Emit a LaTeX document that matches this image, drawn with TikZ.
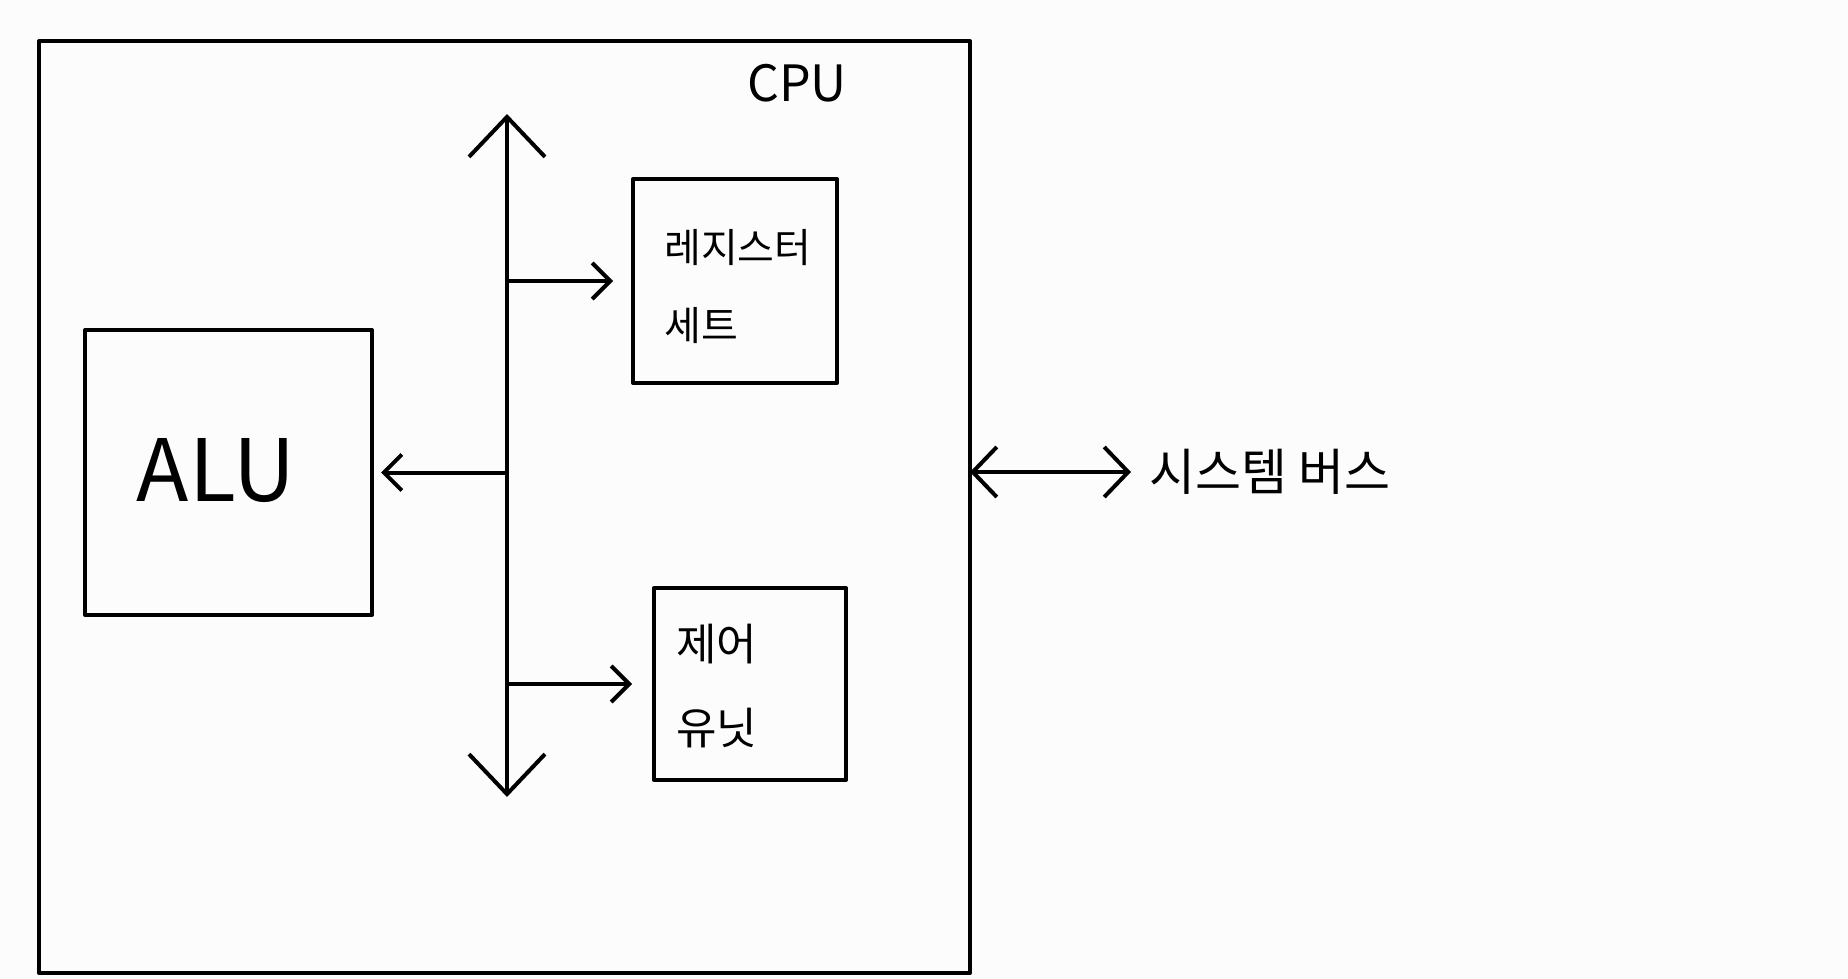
\documentclass[tikz,border=0pt]{standalone}
\usepackage{fontspec}
\setmainfont{Noto Sans CJK KR}
\usetikzlibrary{arrows.meta,positioning}

\definecolor{paper}{RGB}{252,252,252}

\tikzset{
	unitbox/.style={draw, line width=4pt, outer sep=0pt, inner sep=0pt},
	hand/.style={font=\fontsize{40}{78}\selectfont, align=left, inner sep=0pt},
	busarrow/.style={line width=4pt, line cap=round,
		{Straight Barb[length=40pt,width=76pt,line width=4pt]}-{Straight Barb[length=40pt,width=76pt,line width=4pt]}},
	sysarrow/.style={line width=4pt, line cap=round,
		{Straight Barb[length=24pt,width=50pt,line width=4pt]}-{Straight Barb[length=24pt,width=50pt,line width=4pt]}},
	sidearrow/.style={line width=4pt, line cap=round,
		-{Straight Barb[length=18pt,width=36pt,line width=4pt]}}
}

\begin{document}
\begin{tikzpicture}[x=1pt, y=-1pt, line join=round]
	
	% ---------- page ----------
	\fill[paper] (0,0) rectangle (1848,979);
	\useasboundingbox (0,0) rectangle (1848,979);
	
	% ---------- CPU frame ----------
	\node[unitbox, minimum width=931pt, minimum height=932pt] (cpu) at (504.5,507) {};
	\node[font=\fontsize{50}{56}\selectfont] (cpulabel) at (797,83) {CPU};
	
	% ---------- units inside ----------
	\node[unitbox, minimum width=287pt, minimum height=285pt] (alu) at (228.5,472.5) {};
	\node[font=\fontsize{86}{100}\selectfont] (alutext) at (216,471) {ALU};
	
	\node[unitbox, minimum width=204pt, minimum height=204pt] (reg) at (735,281) {};
	\node[hand, anchor=west] (regtext) at (664,287) {레지스터\\세트};
	
	\node[unitbox, minimum width=192pt, minimum height=192pt] (ctrl) at (750,684) {};
	\node[hand, anchor=west, font=\fontsize{44}{84}\selectfont] (ctrltext) at (676,686) {제어\\유닛};
	
	% ---------- internal bus ----------
	\coordinate (bustop) at (507,114);
	\coordinate (busbot) at (507,797);
	\draw[busarrow] (bustop) -- (busbot);
	
	% bus to units
	\draw[sidearrow, shorten >=20pt] (bustop |- reg.west) -- (reg.west);
	\draw[sidearrow, shorten >=9pt] (bustop |- alu.east) -- (alu.east);
	\draw[sidearrow, shorten >=22pt] (bustop |- ctrl.west) -- (ctrl.west);
	
	% ---------- system bus ----------
	\node[hand, anchor=west, font=\fontsize{50}{58}\selectfont] (sysbus) at (1149,472) {시스템 버스};
	\draw[sysarrow, shorten >=18pt] (cpu.east |- sysbus.west) -- (sysbus.west);
	
\end{tikzpicture}
\end{document}
